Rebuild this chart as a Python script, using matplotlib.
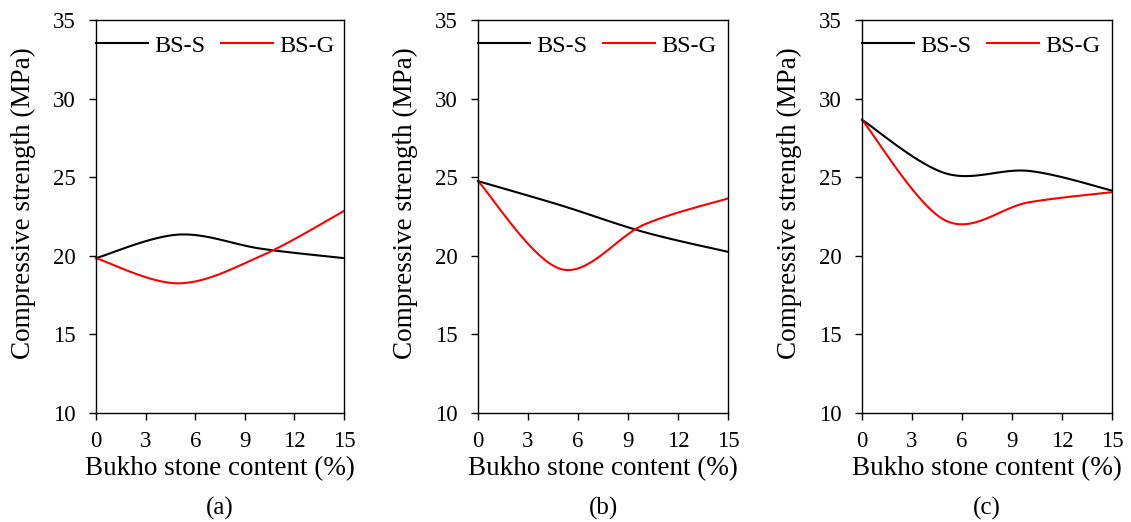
import numpy as np
import matplotlib
matplotlib.use("Agg")
import matplotlib.pyplot as plt

plt.rcParams['font.family'] = ['Liberation Serif', 'DejaVu Serif']

content = [0, 5, 10, 15]
a_bss = [19.85, 21.35, 20.45, 19.85]
a_bsg = [19.85, 18.25, 20.0, 22.85]
b_bss = [24.75, 23.2, 21.5, 20.25]
b_bsg = [24.75, 19.15, 22.0, 23.65]
c_bss = [28.65, 25.25, 25.4, 24.15]
c_bsg = [28.65, 22.25, 23.4, 24.05]
panels = ['(a)', '(b)', '(c)']
series_names = ['BS-S', 'BS-G']
colors = ['black', 'red']
xticks = [0, 3, 6, 9, 12, 15]
yticks = [10, 15, 20, 25, 30, 35]


def smooth(x, y, n=40):
    x = np.asarray(x, float)
    y = np.asarray(y, float)
    P = np.column_stack([x, y])
    P = np.vstack([P[0], P, P[-1]])
    out = []
    for i in range(1, len(P) - 2):
        p0, p1, p2, p3 = P[i - 1], P[i], P[i + 1], P[i + 2]
        c1 = p1 + (p2 - p0) / 6.0
        c2 = p2 - (p3 - p1) / 6.0
        t = np.linspace(0, 1, n)[:, None]
        seg = ((1 - t) ** 3) * p1 + 3 * ((1 - t) ** 2) * t * c1 + 3 * (1 - t) * t ** 2 * c2 + t ** 3 * p2
        out.append(seg if i == 1 else seg[1:])
    s = np.vstack(out)
    return s[:, 0], s[:, 1]


fig = plt.figure(figsize=(11.31, 5.22), dpi=100)
lefts = [96, 478, 862]
widths = [248, 250, 250]
data = [(a_bss, a_bsg), (b_bss, b_bsg), (c_bss, c_bsg)]
for k in range(3):
    ax = fig.add_axes([lefts[k] / 1131, 1 - 413 / 522, widths[k] / 1131, 393 / 522])
    for vals, name, col in zip(data[k], series_names, colors):
        sx, sy = smooth(content, vals)
        ax.plot(sx, sy, color=col, lw=1.5, label=name, clip_on=False)
    ax.set_xlim(0, 15)
    ax.set_ylim(10, 35)
    ax.set_xticks(xticks)
    ax.set_yticks(yticks)
    ax.tick_params(direction='out', length=5, width=1, labelsize=16.5, colors='black')
    ax.tick_params(axis='x', pad=8)
    ax.tick_params(axis='y', pad=9.5)
    for sp in ax.spines.values():
        sp.set_linewidth(1.0)
        sp.set_color('black')
    ax.set_xlabel('Bukho stone content (%)', fontsize=19.5, labelpad=3)
    ax.set_ylabel('Compressive strength (MPa)', fontsize=19.5, labelpad=12)
    ax.yaxis.label.set_y(0.535)
    ax.legend(loc='center left', ncol=2, frameon=False, fontsize=17.5,
              handlelength=2.14, handletextpad=0.25, columnspacing=0.66,
              bbox_to_anchor=(0.0, 0.935), borderaxespad=0.0, borderpad=0.0)
    pos = ax.get_position()
    fig.text((pos.x0 + pos.x1) / 2, 1 - 508 / 522, panels[k], ha='center', va='center', fontsize=18)

fig.savefig('out.png', dpi=100)
